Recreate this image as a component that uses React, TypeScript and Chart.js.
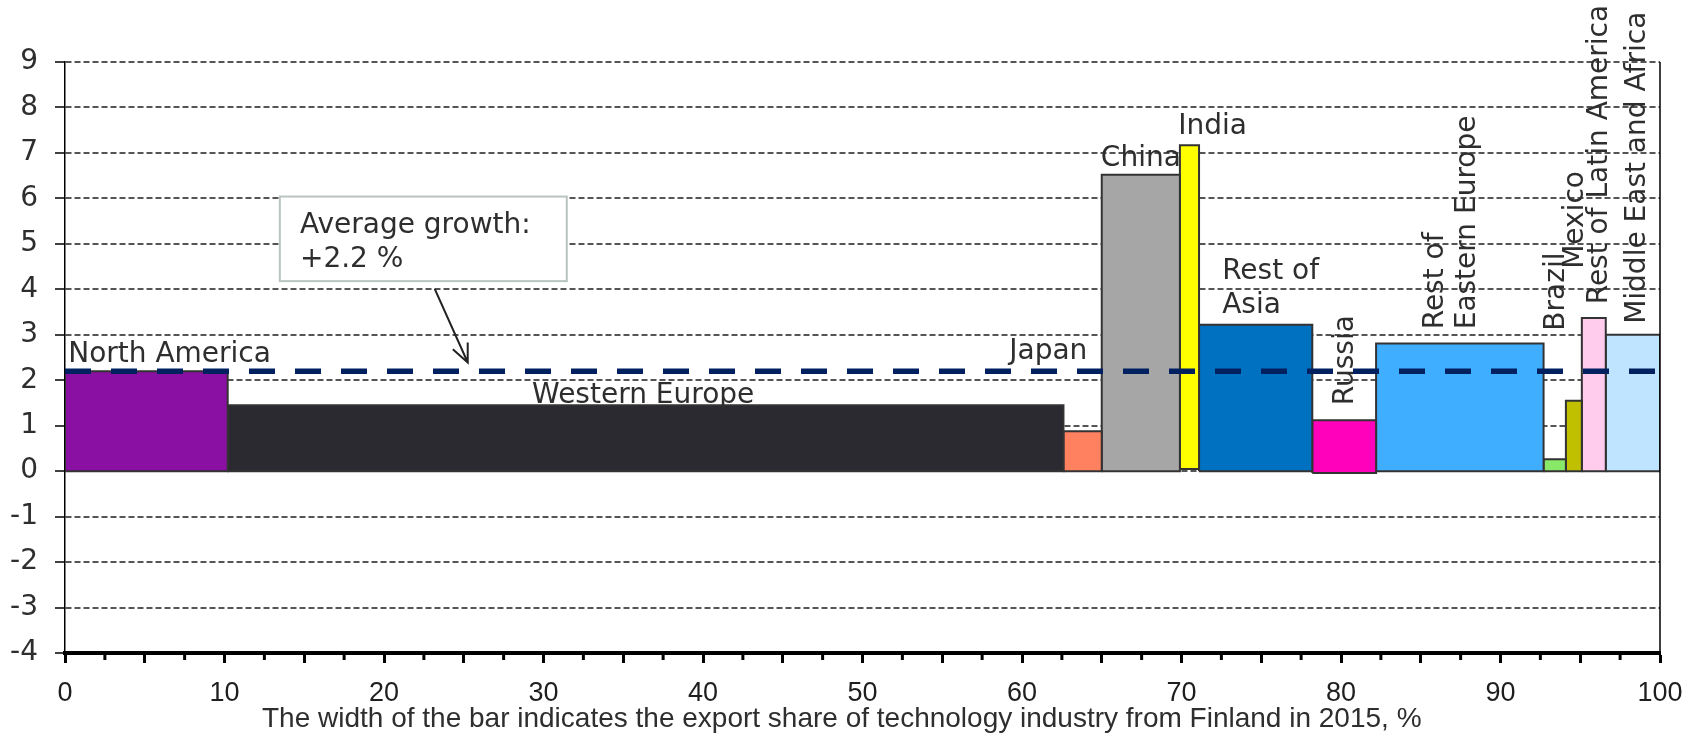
import React, { useEffect, useRef } from 'react';
import { Chart, registerables } from 'chart.js';

Chart.register(...registerables);

// ---- data ----
const regions = [
  'North America', 'Western Europe', 'Japan', 'China', 'India', 'Rest of Asia',
  'Russia', 'Rest of Eastern Europe', 'Brazil', 'Mexico', 'Rest of Latin America', 'Middle East and Africa',
];
// export share (bar width), %
const exportShares = [10.2, 52.4, 2.4, 4.9, 1.2, 7.1, 4.0, 10.5, 1.4, 1.0, 1.5, 3.4];
// growth (bar height), %
const growthValues = [2.2, 1.45, 0.88, 6.52, 7.17, 3.22, 1.12, 2.81, 0.26, 1.55, 3.37, 3.0];
const barBases = [0, 0, 0, 0, 0.05, 0, -0.04, 0, 0, 0, 0, 0];
const barColors = [
  '#8A0FA3', '#2A2A30', '#FF8160', '#A6A6A6', '#FFFF00', '#0070C0',
  '#FF00BB', '#40AEFF', '#88E868', '#C0C000', '#FFCCEE', '#BFE4FF',
];
const averageGrowth = 2.2;
const averageText = ['Average growth:', '+2.2 %'];
const xAxisTitle = 'The width of the bar indicates the export share of technology industry from Finland in 2015, %';
const yMin = -4;
const yMax = 9;
const xMin = 0;
const xMax = 100;

// label layout (data units)
const labelLines = [
  ['North America'], ['Western Europe'], ['Japan'], ['China'], ['India'], ['Rest of', 'Asia'],
  ['Russia'], ['Rest of', 'Eastern Europe'], ['Brazil'], ['Mexico'], ['Rest of Latin America'], ['Middle East and Africa'],
];
const labelX = [0.2, 36.25, 61.65, 67.45, 71.95, 72.55, 80.75, 86.4, 94.0, 95.2, 96.7, 99.05];
const labelY = [2.41, 1.5, 2.47, 6.71, 7.41, 4.22, 1.45, 3.12, 3.09, 4.45, 3.67, 3.24];
const labelVertical = [false, false, false, false, false, false, true, true, true, true, true, true];
const labelAlign = ['left', 'center', 'center', 'center', 'center', 'left', 'left', 'left', 'left', 'left', 'left', 'left'];
const noteBox = { x0: 13.47, x1: 31.46, y0: 6.04, y1: 4.18, textX: 14.73, textY: 5.23 };
const noteArrow = { fromX: 23.18, fromY: 4.01, toX: 25.25, toY: 2.39 };
const titleCenterX = 48.7;

const LABEL_FONT = '28px "DejaVu Sans", Verdana, sans-serif';

const drawPlugin = {
  id: 'customDraw',
  afterDatasetsDraw(chart: any) {
    const ctx = chart.ctx;
    const xs = chart.scales.x;
    const ys = chart.scales.y;
    ctx.save();
    ctx.fillStyle = '#2E2E2E';
    ctx.font = LABEL_FONT;
    ctx.textBaseline = 'alphabetic';
    labelLines.forEach((lines, i) => {
      const px = xs.getPixelForValue(labelX[i]);
      const py = ys.getPixelForValue(labelY[i]);
      if (labelVertical[i]) {
        ctx.save();
        ctx.translate(px, py);
        ctx.rotate(-Math.PI / 2);
        ctx.textAlign = 'left';
        lines.forEach((t, j) => ctx.fillText(t, 0, j * 32));
        ctx.restore();
      } else {
        ctx.textAlign = labelAlign[i];
        lines.forEach((t, j) => ctx.fillText(t, px, py + j * 33.5));
      }
    });

    // note box
    const bx0 = xs.getPixelForValue(noteBox.x0);
    const bx1 = xs.getPixelForValue(noteBox.x1);
    const by0 = ys.getPixelForValue(noteBox.y0);
    const by1 = ys.getPixelForValue(noteBox.y1);
    ctx.fillStyle = '#ffffff';
    ctx.fillRect(bx0, by0, bx1 - bx0, by1 - by0);
    ctx.strokeStyle = '#B9C4C0';
    ctx.lineWidth = 2;
    ctx.strokeRect(bx0, by0, bx1 - bx0, by1 - by0);
    ctx.fillStyle = '#2E2E2E';
    ctx.textAlign = 'left';
    const tx = xs.getPixelForValue(noteBox.textX);
    const ty = ys.getPixelForValue(noteBox.textY);
    averageText.forEach((t, j) => ctx.fillText(t, tx, ty + j * 33.5));

    // arrow
    const ax0 = xs.getPixelForValue(noteArrow.fromX);
    const ay0 = ys.getPixelForValue(noteArrow.fromY);
    const ax1 = xs.getPixelForValue(noteArrow.toX);
    const ay1 = ys.getPixelForValue(noteArrow.toY);
    ctx.strokeStyle = '#222222';
    ctx.lineWidth = 2;
    ctx.beginPath();
    ctx.moveTo(ax0, ay0);
    ctx.lineTo(ax1, ay1);
    const ang = Math.atan2(ay1 - ay0, ax1 - ax0);
    const hl = 20;
    const spread = 0.42;
    ctx.moveTo(ax1 - hl * Math.cos(ang - spread), ay1 - hl * Math.sin(ang - spread));
    ctx.lineTo(ax1, ay1);
    ctx.lineTo(ax1 - hl * Math.cos(ang + spread), ay1 - hl * Math.sin(ang + spread));
    ctx.stroke();
    ctx.restore();
  },
  afterDraw(chart: any) {
    const ctx = chart.ctx;
    const xs = chart.scales.x;
    const ys = chart.scales.y;
    const area = chart.chartArea;
    ctx.save();
    // right frame line
    ctx.strokeStyle = '#000000';
    ctx.lineWidth = 1.5;
    ctx.beginPath();
    const rx = xs.getPixelForValue(xMax);
    ctx.moveTo(rx, ys.getPixelForValue(yMax));
    ctx.lineTo(rx, ys.getPixelForValue(yMin));
    ctx.stroke();
    // minor ticks
    ctx.lineWidth = 3;
    ctx.beginPath();
    for (let v = 2.5; v < xMax; v += 5) {
      const px = xs.getPixelForValue(v);
      ctx.moveTo(px, area.bottom);
      ctx.lineTo(px, area.bottom + 7);
    }
    ctx.stroke();
    // x title
    ctx.fillStyle = '#2E2E2E';
    ctx.font = '28px "Liberation Sans", Arial, sans-serif';
    ctx.textAlign = 'center';
    ctx.textBaseline = 'alphabetic';
    ctx.fillText(xAxisTitle, xs.getPixelForValue(titleCenterX), chart.height - 7);
    ctx.restore();
  },
};

export default function App() {
  const canvasRef = useRef<HTMLCanvasElement | null>(null);

  useEffect(() => {
    document.body.style.margin = '0';
    document.body.style.overflow = 'hidden';
    const canvas = canvasRef.current;
    if (!canvas) return;

    let cum = 0;
    const barDatasets = regions.map((name, i) => {
      const x0 = cum;
      const x1 = cum + exportShares[i];
      cum = x1;
      const b = barBases[i];
      const h = growthValues[i];
      return {
        label: name,
        data: [
          { x: x0, y: b },
          { x: x0, y: h },
          { x: x1, y: h },
          { x: x1, y: b },
          { x: x0, y: b },
        ],
        backgroundColor: barColors[i],
        borderColor: '#333333',
        borderWidth: 2,
        borderJoinStyle: 'miter',
        fill: 'shape',
        pointRadius: 0,
        tension: 0,
        order: 1,
      };
    });

    const avgDataset = {
      label: 'Average growth',
      data: [
        { x: xMin, y: averageGrowth },
        { x: xMax, y: averageGrowth },
      ],
      borderColor: '#002060',
      borderWidth: 5.5,
      borderDash: [26, 20],
      borderCapStyle: 'butt',
      fill: false,
      pointRadius: 0,
      order: 0,
    };

    const chart = new Chart(canvas, {
      type: 'line',
      data: { datasets: [avgDataset as any, ...(barDatasets as any)] },
      options: {
        animation: false,
        responsive: false,
        devicePixelRatio: 1,
        layout: { padding: { top: 62, right: 44, left: 0, bottom: 0 } },
        plugins: { legend: { display: false }, tooltip: { enabled: false } },
        scales: {
          x: {
            type: 'linear',
            min: xMin,
            max: xMax,
            afterFit: (s: any) => { s.height = 81; },
            ticks: {
              stepSize: 5,
              autoSkip: false,
              maxRotation: 0,
              padding: 14,
              color: '#1E1E1E',
              font: { family: '"Liberation Sans", Arial, sans-serif', size: 27 },
              callback: (v: any) => (Number(v) % 10 === 0 ? String(v) : ''),
            },
            grid: {
              drawOnChartArea: false,
              drawTicks: true,
              tickLength: 10,
              tickWidth: 3,
              tickColor: '#000000',
            },
            border: { display: true, color: '#000000', width: 4 },
          },
          y: {
            type: 'linear',
            min: yMin,
            max: yMax,
            afterFit: (s: any) => { s.width = 65; },
            ticks: {
              stepSize: 1,
              padding: 17,
              color: '#2E2E2E',
              font: { family: '"DejaVu Sans", Verdana, sans-serif', size: 28 },
            },
            grid: {
              color: '#555555',
              lineWidth: 2,
              tickLength: 10,
              tickColor: '#000000',
              tickWidth: 1.5,
            },
            border: { display: true, color: '#000000', width: 1.5, dash: [6, 3] },
          },
        },
      },
      plugins: [drawPlugin],
    });

    return () => chart.destroy();
  }, []);

  return (
    <div style={{ width: 1704, height: 734 }}>
      <canvas ref={canvasRef} width={1704} height={734} style={{ display: 'block', width: 1704, height: 734 }} />
    </div>
  );
}
